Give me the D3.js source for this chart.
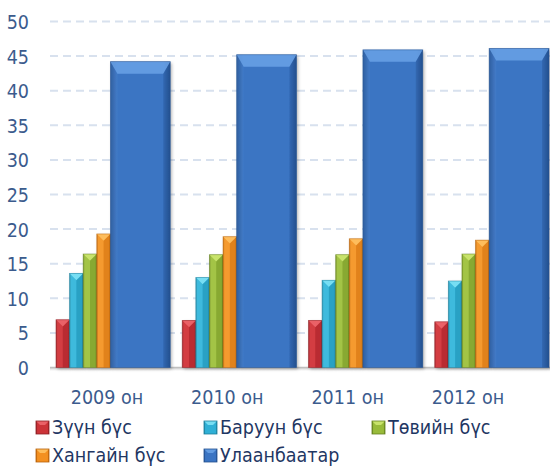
<!DOCTYPE html>
<html><head><meta charset="utf-8">
<script src="https://cdn.jsdelivr.net/npm/d3@7/dist/d3.min.js"></script>
<style>
html,body{margin:0;padding:0;background:#fff;}
svg{display:block;}
text{font-family:Tahoma,"DejaVu Sans Condensed","Liberation Sans",sans-serif;}
</style></head>
<body>
<svg id="chart" width="550" height="468"></svg>
<script>
const categories = ["2009 он","2010 он","2011 он","2012 он"];
const seriesNames = ["Зүүн бүс","Баруун бүс","Төвийн бүс","Хангайн бүс","Улаанбаатар"];
const zuun   = [6.9, 6.8, 6.8, 6.6];
const baruun = [13.6, 13.0, 12.6, 12.5];
const tuv    = [16.4, 16.3, 16.3, 16.4];
const hangai = [19.3, 18.9, 18.6, 18.4];
const ub     = [44.2, 45.2, 45.9, 46.1];
const yTicks = [0,5,10,15,20,25,30,35,40,45,50];

const seriesValues = [zuun, baruun, tuv, hangai, ub];
const colors = [
  {base:"#cc3338", light:"#ee6a70", dark:"#8e1f24"},
  {base:"#2fb0d6", light:"#84e6f8", dark:"#1d7f9c"},
  {base:"#98bb3a", light:"#d0ea74", dark:"#64801f"},
  {base:"#f39020", light:"#ffc566", dark:"#b8620c"},
  {base:"#3a74c3", light:"#6aa2e6", dark:"#23508f"}
];
const widthWeights = [1,1,1,1,4.4];

const svg = d3.select("#chart");
const defs = svg.append("defs");

const y = d3.scaleLinear().domain([0,50]).range([367.5,21.5]);
const x = d3.scaleBand().domain(categories).range([50,555]).paddingInner(0.095).paddingOuter(0.0475);
const totalW = d3.sum(widthWeights);
const inner = d3.scaleLinear().domain([0,totalW]).range([0,x.bandwidth()]);
const offsets = widthWeights.map((w,i)=>d3.sum(widthWeights.slice(0,i)));
const xLabel = d3.scalePoint().domain(categories).range([107,468]);

colors.forEach((c,i)=>{
  const g = defs.append("linearGradient").attr("id","g"+i).attr("x1","0").attr("x2","1").attr("y1","0").attr("y2","0");
  g.append("stop").attr("offset","0").attr("stop-color",c.dark);
  g.append("stop").attr("offset","0.12").attr("stop-color",c.base);
  g.append("stop").attr("offset","0.5").attr("stop-color",c.base);
  g.append("stop").attr("offset","0.88").attr("stop-color",c.base);
  g.append("stop").attr("offset","1").attr("stop-color",c.dark);
});
const sh = defs.append("filter").attr("id","shadow").attr("x","-20%").attr("y","-5%").attr("width","140%").attr("height","115%");
sh.append("feDropShadow").attr("dx",1.5).attr("dy",1.5).attr("stdDeviation",1.5).attr("flood-color","#000").attr("flood-opacity",0.3);
const bl = defs.append("linearGradient").attr("id","base").attr("x1","0").attr("x2","0").attr("y1","0").attr("y2","1");
bl.append("stop").attr("offset","0").attr("stop-color","#c8c8c8");
bl.append("stop").attr("offset","1").attr("stop-color","#ffffff");

svg.append("g").selectAll("line").data(yTicks.filter(t=>t>0)).join("line")
  .attr("x1",50).attr("x2",550).attr("y1",d=>y(d)).attr("y2",d=>y(d))
  .attr("stroke","#d8e1ee").attr("stroke-width",2).attr("stroke-dasharray","8,5");

svg.append("rect").attr("x",50).attr("y",y(0)-0.5).attr("width",500).attr("height",4).attr("fill","url(#base)");
svg.append("line").attr("x1",50).attr("x2",550).attr("y1",y(0)).attr("y2",y(0)).attr("stroke","#bfbfbf").attr("stroke-width",1.5);

svg.append("g").selectAll("text").data(yTicks).join("text")
  .attr("x",29).attr("y",d=>y(d)).attr("dy","0.38em").attr("text-anchor","end")
  .attr("font-size",19.5).attr("fill","#3b5b8d").text(d=>d);

const bars = [];
categories.forEach((cat,ci)=>{
  seriesValues.forEach((vals,si)=>{
    bars.push({cat, si, v: vals[ci]});
  });
});
const bg = svg.append("g");
const barG = bg.selectAll("g.bar").data(bars).join("g").attr("class","bar");
barG.each(function(d){
  const g = d3.select(this);
  const x0 = x(d.cat) + inner(offsets[d.si]);
  const w = inner(offsets[d.si]+widthWeights[d.si]) - inner(offsets[d.si]);
  const y0 = y(d.v), h = y(0)-y(d.v);
  const c = colors[d.si];
  const b = Math.min(12, w*0.5);
  const bs = Math.min(7, w*0.5);
  g.append("rect").attr("x",x0).attr("y",y0).attr("width",w).attr("height",h)
    .attr("fill","url(#g"+d.si+")").attr("filter","url(#shadow)");
  g.append("path").attr("d",`M${x0},${y0}L${x0+w},${y0}L${x0+w-bs},${y0+b}L${x0+bs},${y0+b}Z`)
    .attr("fill",c.light).attr("opacity",0.85);
  g.append("path").attr("d",`M${x0},${y0}L${x0+bs},${y0+b}L${x0+bs},${y0+h}L${x0},${y0+h}Z`)
    .attr("fill",c.light).attr("opacity",0.2);
  g.append("path").attr("d",`M${x0+w},${y0}L${x0+w-bs},${y0+b}L${x0+w-bs},${y0+h}L${x0+w},${y0+h}Z`)
    .attr("fill",c.dark).attr("opacity",0.3);
  g.append("rect").attr("x",x0).attr("y",y0).attr("width",w).attr("height",h)
    .attr("fill","none").attr("stroke",c.dark).attr("stroke-width",0.8).attr("stroke-opacity",0.6);
});

svg.append("g").selectAll("text").data(categories).join("text")
  .attr("x",d=>xLabel(d)).attr("y",403.5).attr("text-anchor","middle")
  .attr("font-size",19.5).attr("fill","#3b5b8d").text(d=>d);

const legCols = [36,204,372];
const legend = svg.append("g").selectAll("g").data(seriesNames).join("g")
  .attr("transform",(d,i)=>`translate(${legCols[i%3]},${421+Math.floor(i/3)*28})`);
legend.append("rect").attr("width",13).attr("height",13).attr("fill",(d,i)=>"url(#g"+i+")");
legend.append("path").attr("d","M0,0L13,0L9,4L4,4Z").attr("fill",(d,i)=>colors[i].light).attr("opacity",0.85);
legend.append("rect").attr("width",13).attr("height",13).attr("fill","none").attr("stroke",(d,i)=>colors[i].dark).attr("stroke-width",0.8);
legend.append("text").attr("x",16).attr("y",12.5).attr("font-size",19.5).attr("fill","#1f3763").text(d=>d);
</script>
</body></html>
